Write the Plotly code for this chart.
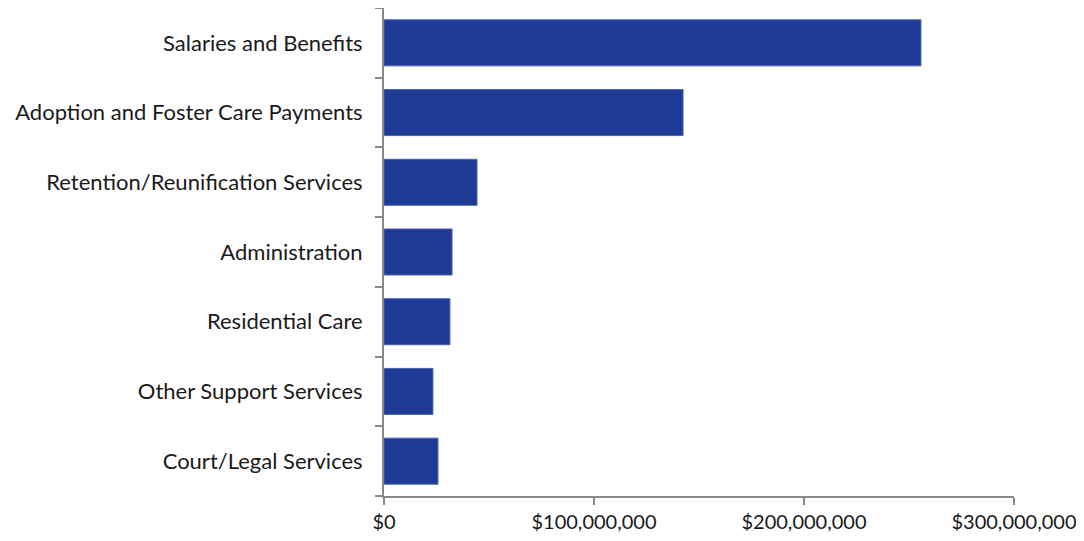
import plotly.graph_objects as go

# Spending categories (top to bottom as shown)
categories = [
    "Salaries and Benefits",
    "Adoption and Foster Care Payments",
    "Retention/Reunification Services",
    "Administration",
    "Residential Care",
    "Other Support Services",
    "Court/Legal Services",
]
amounts = [255700000, 142400000, 44300000, 32400000, 31400000, 23300000, 25700000]

tick_vals = [0, 100000000, 200000000, 300000000]
tick_text = ["$0", "$100,000,000", "$200,000,000", "$300,000,000"]

fig = go.Figure()

fig.add_trace(go.Bar(
    x=amounts,
    y=categories,
    orientation="h",
    marker=dict(color="#1F3A96", line=dict(width=1, color="#4A62AE")),
    width=0.66,
    hovertemplate="%{y}: $%{x:,.0f}<extra></extra>",
))

# page body has an 8px margin, so the figure is sized to fit inside it
fig.update_layout(
    width=1076,
    height=525,
    margin=dict(l=376, r=70, t=0, b=37),
    plot_bgcolor="white",
    paper_bgcolor="white",
    font=dict(family="Lato, Open Sans, sans-serif", size=22, color="#1a1a1a"),
    showlegend=False,
    bargap=0.34,
)

fig.update_xaxes(
    range=[0, 300000000],
    tickvals=tick_vals,
    ticktext=tick_text,
    tickfont=dict(size=20),
    showgrid=False,
    zeroline=False,
    showline=True,
    linecolor="#898989",
    linewidth=2,
    ticks="outside",
    ticklen=7,
    tickwidth=2,
    tickcolor="#898989",
)

fig.update_yaxes(
    categoryorder="array",
    categoryarray=categories[::-1],
    showgrid=False,
    showline=True,
    linecolor="#898989",
    linewidth=2,
    ticks="outside",
    tickson="boundaries",
    ticklen=7,
    tickwidth=2,
    tickcolor="#898989",
    ticklabelstandoff=15,
)

fig.write_html("out.html")
